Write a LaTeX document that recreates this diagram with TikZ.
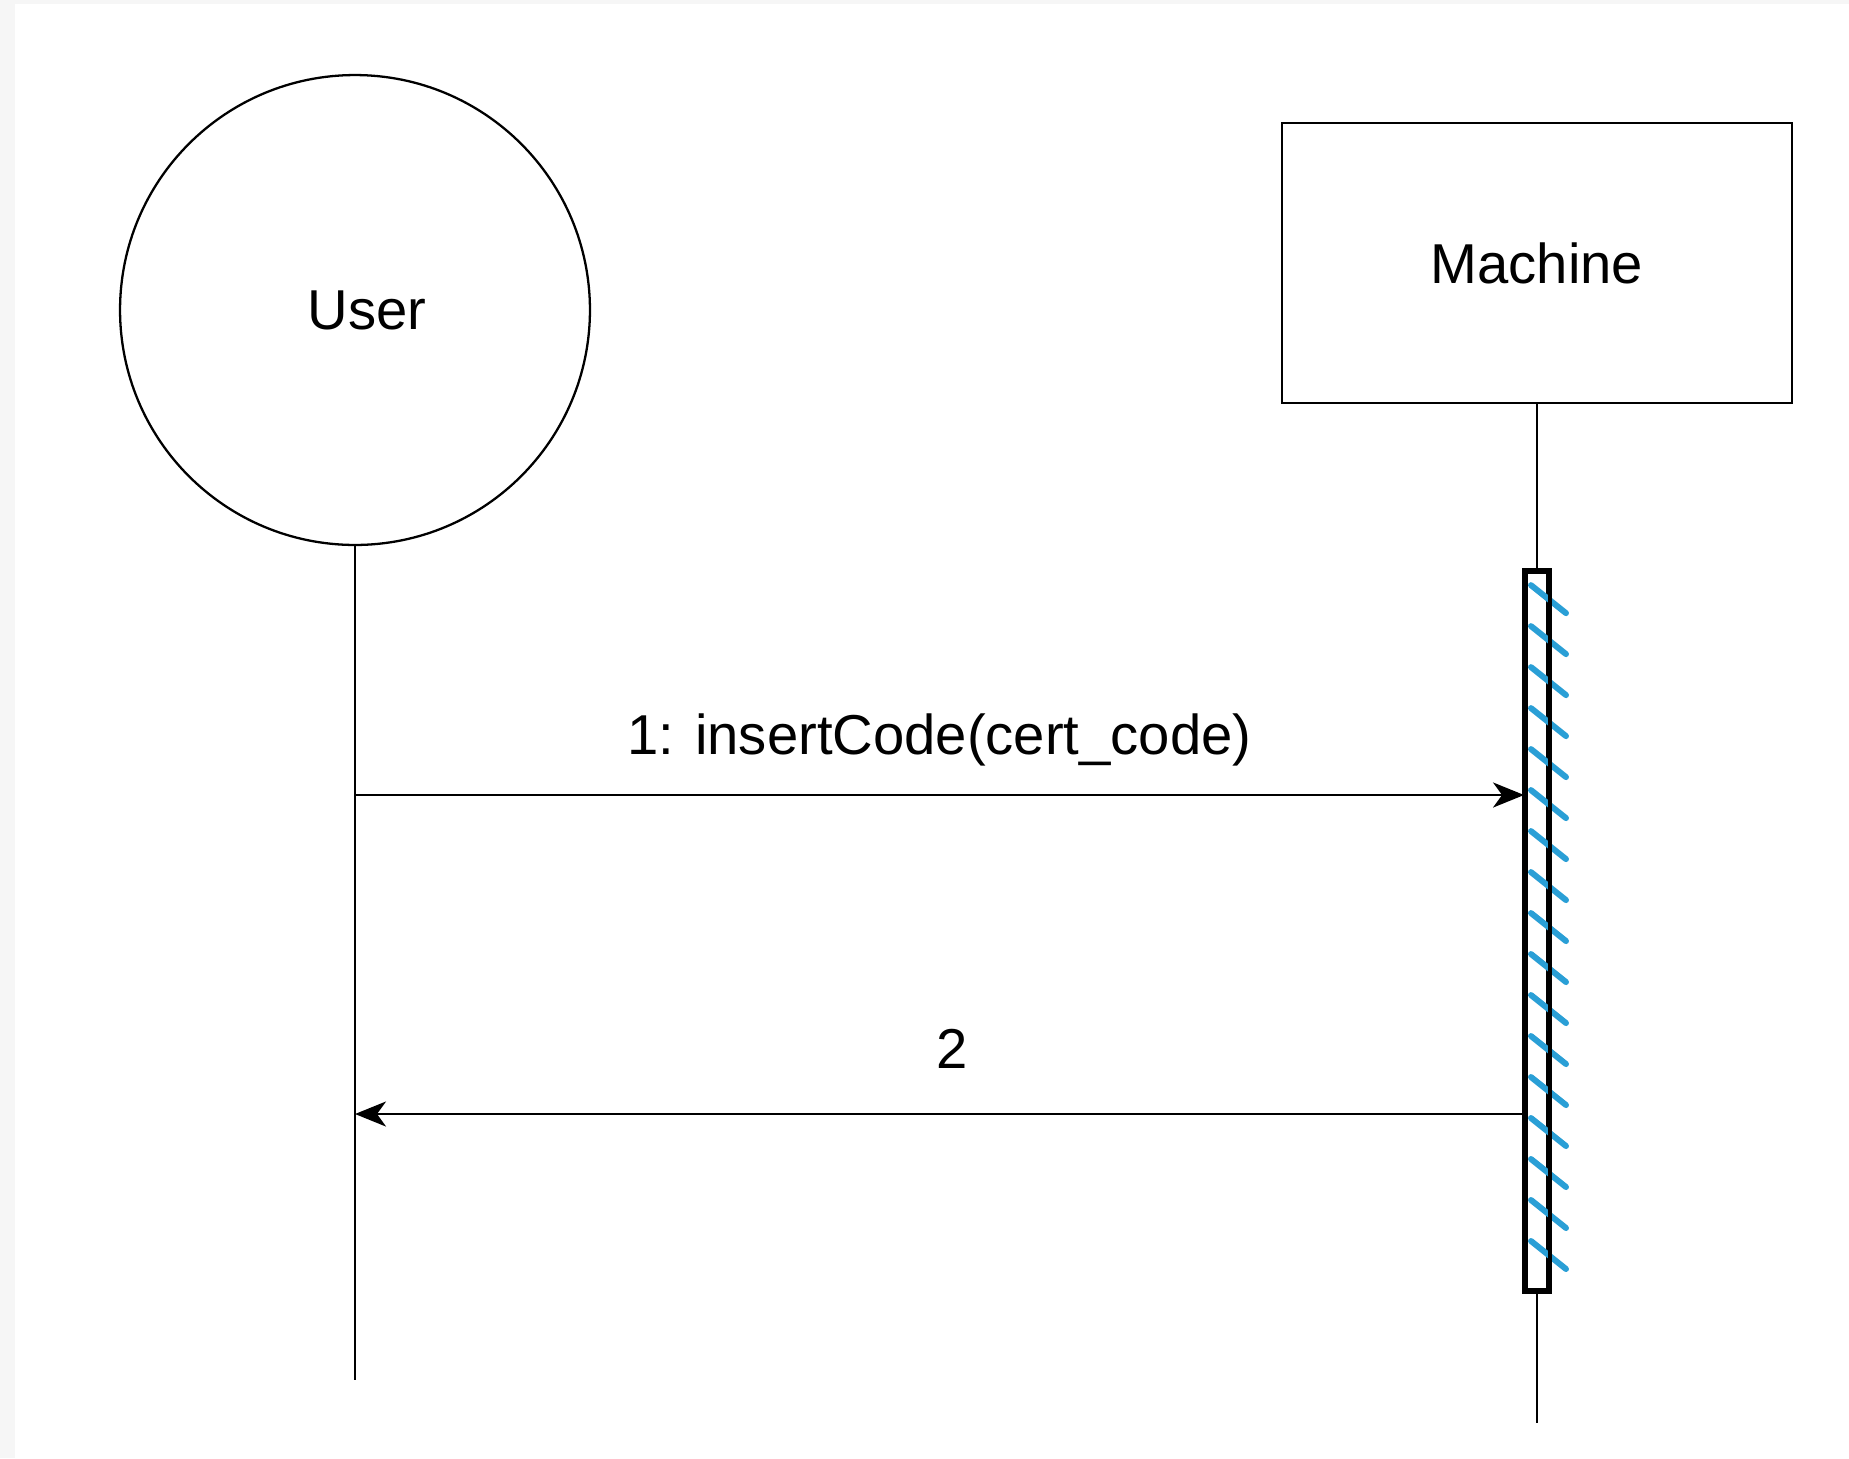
\documentclass[tikz,border=0pt]{standalone}
\usepackage{fontspec}
\setmainfont{Liberation Sans}
\usetikzlibrary{arrows.meta,positioning}
\definecolor{hatchblue}{HTML}{2A9FD6}
\definecolor{framegray}{HTML}{F6F6F6}
\tikzset{
        label_text/.style={font=\fontsize{32}{38}\selectfont, inner sep=0pt},
        % Actor drawn as a circle
        actor_circle/.style={circle, draw=black, line width=1.3pt, fill=white, minimum size=9.4cm, inner sep=0pt},
        % Object box at the top of a lifeline
        object_box/.style={label_text, rectangle, draw=black, line width=1.3pt, fill=white, minimum width=10.2cm, minimum height=5.6cm},
        % Lifelines
        life_line/.style={draw=black, line width=1.3pt},
        % Activation bar
        activation_bar/.style={rectangle, draw=black, line width=2.2pt, fill=white, minimum width=0.44cm, minimum height=14.36cm, inner sep=0pt},
        % Messages
        msg_arrow/.style={draw=black, line width=1.6pt, -{Stealth[length=0.62cm, width=0.5cm, inset=0.18cm]}}
}
\begin{document}
\begin{tikzpicture}[x=0.02cm, y=-0.02cm]
            % frame
            \fill[framegray] (0,0) rectangle (1849,1458);
            \fill[white] (15,4) rectangle (1849,1458);
            \useasboundingbox (0,0) rectangle (1849,1458);

            \node[actor_circle, label={[label_text, xshift=0.24cm]center:User}] (user) at (355,310) {};
            \node[object_box] (machine) at (1537,263) {Machine};

            \coordinate (user_end) at (355,1380);
            \coordinate (machine_end) at (1537,1423);
            \draw[life_line] (user.south) -- (user_end);
            \draw[life_line] (machine.south) -- (machine_end);

            \node[activation_bar] (bar) at (1537,931) {};
            \foreach \i in {0,...,16}
                \draw[hatchblue, line width=3.4pt, line cap=round]
                    ([xshift=-0.12cm, yshift={-0.3cm-0.82cm*\i}]bar.north) -- ++(0.7cm,-0.56cm);
            \draw[line width=2.2pt] (bar.north west) rectangle (bar.south east);

            % messages
            \coordinate (call_start) at (355,795);
            \coordinate (reply_end) at (355,1114);
            \draw[msg_arrow] (call_start) -- (bar.west |- call_start)
                node[label_text, midway, anchor=base, yshift=0.82cm] (call_label) {1: insertCode(cert\_code)};
            \draw[msg_arrow] (bar.west |- reply_end) -- (reply_end)
                node[label_text, midway, anchor=base, xshift=0.26cm, yshift=0.92cm] (reply_label) {2};
\end{tikzpicture}
\end{document}
